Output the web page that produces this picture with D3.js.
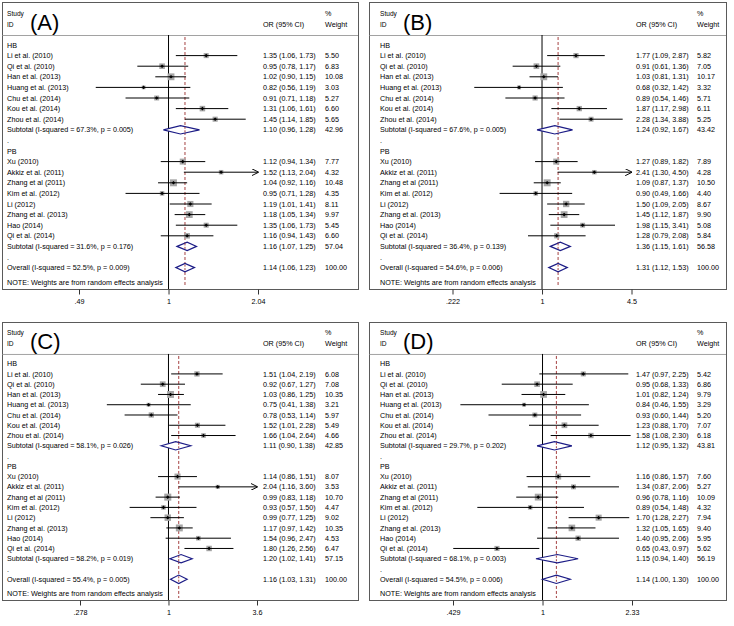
<!DOCTYPE html>
<html><head><meta charset="utf-8">
<script src="https://cdn.jsdelivr.net/npm/d3@7/dist/d3.min.js"></script>
<style>
html,body{margin:0;padding:0;background:#fff;}
svg{display:block;font-family:"Liberation Sans",Arial,Helvetica,sans-serif;}
</style></head>
<body>
<svg id="chart" width="734" height="626"></svg>
<script>
// ---------- DATA ----------
const hbStudies = ["Li et al. (2010)","Qi et al. (2010)","Han et al. (2013)","Huang et al. (2013)","Chu et al. (2014)","Kou et al. (2014)","Zhou et al. (2014)"];
const pbStudies = ["Xu (2010)","Akkiz et al. (2011)","Zhang et al (2011)","Kim et al. (2012)","Li (2012)","Zhang et al. (2013)","Hao (2014)","Qi et al. (2014)"];
const panelLabels = ["(A)","(B)","(C)","(D)"];

// rows: [OR, lower, upper, weight]
const hbA = [[1.35,1.06,1.73,5.50],[0.95,0.78,1.17,6.83],[1.02,0.90,1.15,10.08],[0.82,0.56,1.19,3.03],[0.91,0.71,1.18,5.27],[1.31,1.06,1.61,6.60],[1.45,1.14,1.85,5.65]];
const pbA = [[1.12,0.94,1.34,7.77],[1.52,1.13,2.04,4.32],[1.04,0.92,1.16,10.48],[0.95,0.71,1.28,4.35],[1.19,1.01,1.41,8.11],[1.18,1.05,1.34,9.97],[1.35,1.06,1.73,5.45],[1.16,0.94,1.43,6.60]];
const subA = [[1.10,0.96,1.28,42.96],[1.16,1.07,1.25,57.04],[1.14,1.06,1.23,100.00]];
const hetA = ["I-squared = 67.3%, p = 0.005","I-squared = 31.6%, p = 0.176","I-squared = 52.5%, p = 0.009"];
const ticksA = [".49","1","2.04"];

const hbB = [[1.77,1.09,2.87,5.82],[0.91,0.61,1.36,7.05],[1.03,0.81,1.31,10.17],[0.68,0.32,1.42,3.32],[0.89,0.54,1.46,5.71],[1.87,1.17,2.98,6.11],[2.28,1.34,3.88,5.25]];
const pbB = [[1.27,0.89,1.82,7.89],[2.41,1.30,4.50,4.28],[1.09,0.87,1.37,10.50],[0.90,0.49,1.66,4.40],[1.50,1.09,2.05,8.67],[1.45,1.12,1.87,9.90],[1.98,1.15,3.41,5.08],[1.28,0.79,2.08,5.84]];
const subB = [[1.24,0.92,1.67,43.42],[1.36,1.15,1.61,56.58],[1.31,1.12,1.53,100.00]];
const hetB = ["I-squared = 67.6%, p = 0.005","I-squared = 36.4%, p = 0.139","I-squared = 54.6%, p = 0.006"];
const ticksB = [".222","1","4.5"];

const hbC = [[1.51,1.04,2.19,6.08],[0.92,0.67,1.27,7.08],[1.03,0.86,1.25,10.35],[0.75,0.41,1.38,3.21],[0.78,0.53,1.14,5.97],[1.52,1.01,2.28,5.49],[1.66,1.04,2.64,4.66]];
const pbC = [[1.14,0.86,1.51,8.07],[2.04,1.16,3.60,3.53],[0.99,0.83,1.18,10.70],[0.93,0.57,1.50,4.47],[0.99,0.77,1.25,9.02],[1.17,0.97,1.42,10.35],[1.54,0.96,2.47,4.53],[1.80,1.26,2.56,6.47]];
const subC = [[1.11,0.90,1.38,42.85],[1.20,1.02,1.41,57.15],[1.16,1.03,1.31,100.00]];
const hetC = ["I-squared = 58.1%, p = 0.026","I-squared = 58.2%, p = 0.019","I-squared = 55.4%, p = 0.005"];
const ticksC = [".278","1","3.6"];

const hbD = [[1.47,0.97,2.25,5.42],[0.95,0.68,1.33,6.86],[1.01,0.82,1.24,9.79],[0.84,0.46,1.55,3.29],[0.93,0.60,1.44,5.20],[1.23,0.88,1.70,7.07],[1.58,1.08,2.30,6.18]];
const pbD = [[1.16,0.86,1.57,7.60],[1.34,0.87,2.06,5.27],[0.96,0.78,1.16,10.09],[0.89,0.54,1.48,4.32],[1.70,1.28,2.27,7.94],[1.32,1.05,1.65,9.40],[1.40,0.95,2.06,5.95],[0.65,0.43,0.97,5.62]];
const subD = [[1.12,0.95,1.32,43.81],[1.15,0.94,1.40,56.19],[1.14,1.00,1.30,100.00]];
const hetD = ["I-squared = 29.7%, p = 0.202","I-squared = 68.1%, p = 0.003","I-squared = 54.5%, p = 0.006"];
const ticksD = [".429","1","2.33"];

// ---------- LAYOUT ----------
const panels = [
  {label:panelLabels[0], hb:hbA, pb:pbA, sub:subA, het:hetA, ticks:ticksA, bx0:2,   bx1:358, by0:2,   by1:289, tx:7,   x1:168.5, span:89.5, orX:263, wX:325},
  {label:panelLabels[1], hb:hbB, pb:pbB, sub:subB, het:hetB, ticks:ticksB, bx0:369, bx1:726, by0:2,   by1:289, tx:380, x1:542,   span:89.5, orX:636, wX:697},
  {label:panelLabels[2], hb:hbC, pb:pbC, sub:subC, het:hetC, ticks:ticksC, bx0:2,   bx1:358, by0:322, by1:600, tx:7,   x1:168.5, span:88.5, orX:263, wX:325},
  {label:panelLabels[3], hb:hbD, pb:pbD, sub:subD, het:hetD, ticks:ticksD, bx0:369, bx1:726, by0:322, by1:600, tx:380, x1:542.5, span:89.5, orX:636, wX:697}
];

const svg = d3.select("#chart");
const FS = 7.2;
const fmt = d3.format(".2f");
const ciText = r => `${fmt(r[0])} (${fmt(r[1])}, ${fmt(r[2])})`;

svg.append("defs").append("marker")
  .attr("id","arrow").attr("viewBox","0 0 10 10").attr("refX",9).attr("refY",5)
  .attr("markerWidth",7).attr("markerHeight",7).attr("markerUnits","userSpaceOnUse").attr("orient","auto")
  .append("path").attr("d","M0,0 L10,5 L0,10").attr("fill","none").attr("stroke","#000").attr("stroke-width",1.4);

panels.forEach(p => {
  const g = svg.append("g");
  const tv = p.ticks.map(Number);
  const vs = (p.by1 - p.by0) / 287;           // vertical scale of the panel
  const Y = d => p.by0 + d * vs;              // offset inside panel
  const x = d3.scaleLog().domain([tv[0], tv[2]]).range([p.x1 - p.span, p.x1 + p.span]);
  const headerY = Y(33);
  const y = d3.scaleLinear().domain([0, 21]).range([Y(43), Y(265.6)]);

  // frame
  g.append("rect").attr("x",p.bx0+0.5).attr("y",p.by0+0.5).attr("width",p.bx1-p.bx0).attr("height",p.by1-p.by0)
    .attr("fill","none").attr("stroke","#5a5a5a").attr("stroke-width",1);
  g.append("line").attr("x1",p.bx0).attr("x2",p.bx1).attr("y1",headerY+0.5).attr("y2",headerY+0.5)
    .attr("stroke","#8a8a8a").attr("stroke-width",0.8);

  // header
  g.append("text").attr("x",p.tx).attr("y",Y(13.5)).attr("font-size",6.6).text("Study");
  g.append("text").attr("x",p.tx).attr("y",Y(24.5)).attr("font-size",6.6).text("ID");
  g.append("text").attr("x",p.tx+23).attr("y",Y(28)).attr("font-size",22).text(p.label);
  g.append("text").attr("x",p.orX).attr("y",Y(24.5)).attr("font-size",FS).text("OR (95% CI)");
  g.append("text").attr("x",p.wX).attr("y",Y(13.5)).attr("font-size",FS).text("%");
  g.append("text").attr("x",p.wX).attr("y",Y(24.5)).attr("font-size",FS).text("Weight");

  // reference lines
  g.append("line").attr("x1",x(1)).attr("x2",x(1)).attr("y1",headerY).attr("y2",p.by1)
    .attr("stroke","#000").attr("stroke-width",1);
  g.append("line").attr("x1",x(p.sub[2][0])).attr("x2",x(p.sub[2][0])).attr("y1",headerY+2).attr("y2",p.by1-2)
    .attr("stroke","#9b2c2c").attr("stroke-width",0.9).attr("stroke-dasharray","3,2");

  // rows
  const rows = [];
  rows.push({i:0, type:"label", text:"HB"});
  p.hb.forEach((r,k) => rows.push({i:1+k, type:"study", text:hbStudies[k], r}));
  rows.push({i:8, type:"sub", text:"Subtotal  (" + p.het[0] + ")", r:p.sub[0]});
  rows.push({i:9, type:"label", text:"."});
  rows.push({i:10, type:"label", text:"PB"});
  p.pb.forEach((r,k) => rows.push({i:11+k, type:"study", text:pbStudies[k], r}));
  rows.push({i:19, type:"sub", text:"Subtotal  (" + p.het[1] + ")", r:p.sub[1]});
  rows.push({i:20, type:"label", text:"."});
  rows.push({i:21, type:"sub", text:"Overall  (" + p.het[2] + ")", r:p.sub[2]});

  rows.forEach(d => {
    const yc = y(d.i);
    g.append("text").attr("x",p.tx).attr("y",yc+2.6).attr("font-size",FS).text(d.text);
    if (d.type === "study") {
      const r = d.r;
      const s = 2.15*Math.sqrt(r[3]);
      g.append("rect").attr("x",x(r[0])-s/2).attr("y",yc-s/2).attr("width",s).attr("height",s).attr("fill","#a6a6a6");
      const arrowHi = r[2] >= tv[2]-1e-9;
      g.append("line").attr("x1",x(Math.max(r[1],tv[0]))).attr("x2",x(Math.min(r[2],tv[2]))).attr("y1",yc).attr("y2",yc)
        .attr("stroke","#000").attr("stroke-width",1)
        .attr("marker-end", arrowHi ? "url(#arrow)" : null);
      g.append("path").attr("d",`M${x(r[0])-1.8},${yc} L${x(r[0])},${yc-1.8} L${x(r[0])+1.8},${yc} L${x(r[0])},${yc+1.8}Z`).attr("fill","#000");
    }
    if (d.type === "sub") {
      const r = d.r;
      g.append("path").attr("d",`M${x(r[1])},${yc} L${x(r[0])},${yc-4.2} L${x(r[2])},${yc} L${x(r[0])},${yc+4.2}Z`)
        .attr("fill","#fff").attr("stroke","#1c1c86").attr("stroke-width",1.2);
      g.append("line").attr("x1",x(p.sub[2][0])).attr("x2",x(p.sub[2][0])).attr("y1",yc-3).attr("y2",yc+3)
        .attr("stroke","#9b2c2c").attr("stroke-width",0.9).attr("stroke-dasharray","2,1.5");
    }
    if (d.r) {
      g.append("text").attr("x",p.orX).attr("y",yc+2.6).attr("font-size",FS).text(ciText(d.r));
      g.append("text").attr("x",p.wX).attr("y",yc+2.6).attr("font-size",FS).text(fmt(d.r[3]));
    }
  });
  g.append("text").attr("x",p.tx).attr("y",Y(280)+2.6).attr("font-size",FS).text("NOTE: Weights are from random effects analysis");

  // axis
  const axis = d3.axisBottom(x).tickValues(tv).tickFormat((v,k) => p.ticks[k]).tickSize(5).tickSizeOuter(0);
  const ag = g.append("g").attr("transform",`translate(0,${p.by1+0.5})`).call(axis);
  ag.select(".domain").remove();
  ag.selectAll("line").attr("stroke","#333");
  ag.selectAll("text").attr("font-size",FS).attr("font-family","Liberation Sans, Arial, sans-serif").attr("dy","0.95em").attr("fill","#000");
});
</script>
</body></html>
